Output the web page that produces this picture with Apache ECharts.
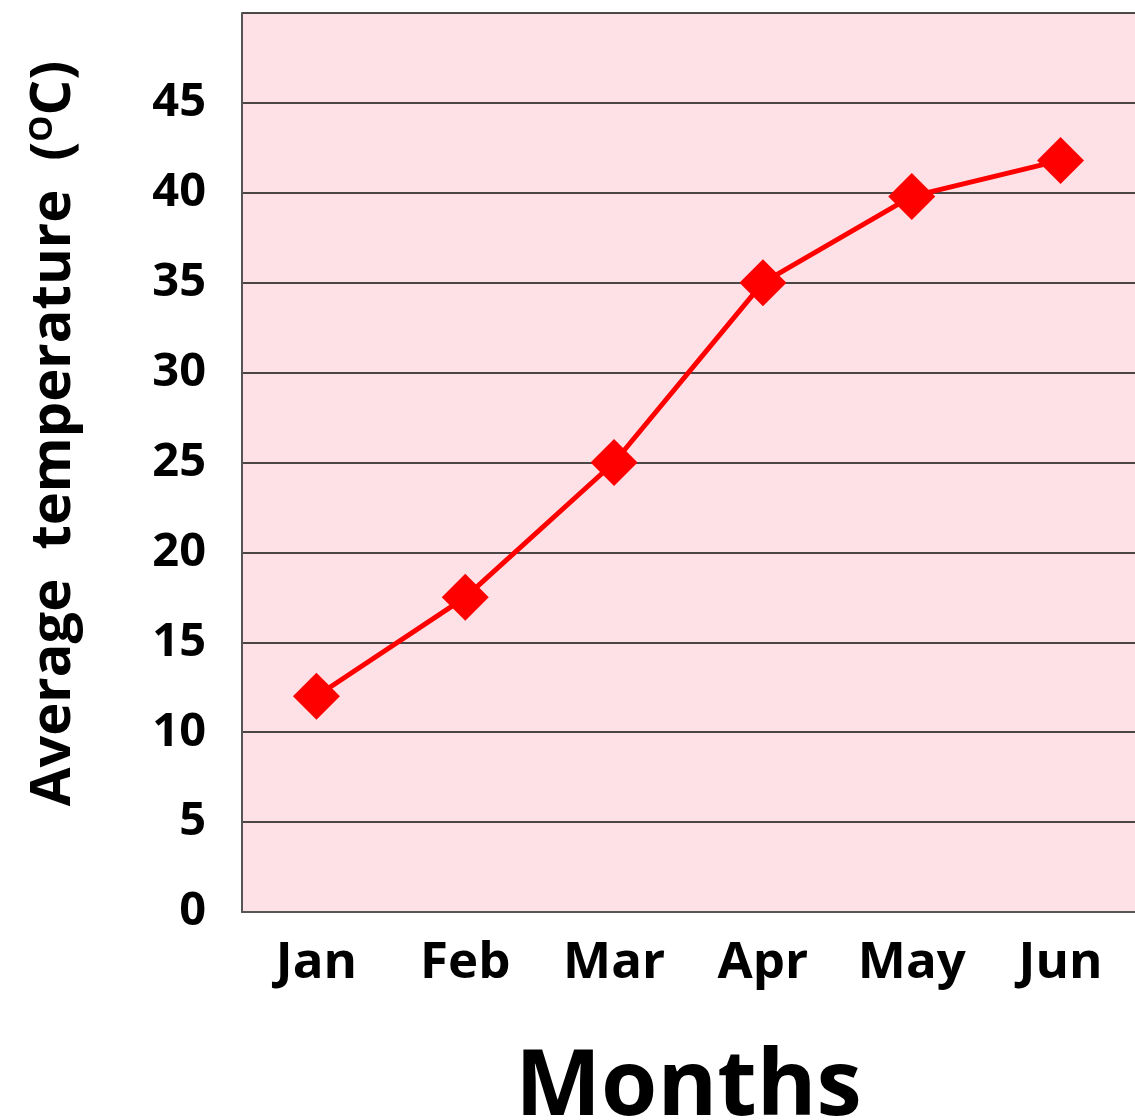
<!DOCTYPE html>
<html>
<head>
<meta charset="utf-8">
<script src="https://cdn.jsdelivr.net/npm/echarts@6/dist/echarts.min.js"></script>
<style>
	html, body { margin: 0; padding: 0; background: #fff; }
	#chart { width: 1135px; height: 1120px; }
</style>
</head>
<body>
<div id="chart"></div>
<script>
	// 月份和平均温度
	const months = ['Jan', 'Feb', 'Mar', 'Apr', 'May', 'Jun'];
	const temps = [12, 17.5, 25, 35, 39.8, 41.8];
	const yTicks = [0, 5, 10, 15, 20, 25, 30, 35, 40, 45];

	const font = '"Open Sans", "Noto Sans", sans-serif';

	const chart = echarts.init(document.getElementById('chart'));

	const options = {
		backgroundColor: '#ffffff',
		animation: false,
		grid: {
			left: 242,
			right: 0,
			top: 13,
			bottom: 208,
			containLabel: false,
			outerBoundsMode: 'none',
			show: true,
			backgroundColor: '#fde1e7',
			borderWidth: 0
		},
		xAxis: {
			type: 'category',
			data: months,
			boundaryGap: true,
			name: 'Months',
			nameLocation: 'middle',
			nameGap: 132,
			nameTextStyle: {
				fontFamily: font,
				fontWeight: 'bold',
				fontSize: 91,
				color: '#000'
			},
			axisLine: {
				lineStyle: { color: '#555', width: 2 }
			},
			axisTick: { show: false },
			axisLabel: {
				margin: 26,
				fontFamily: font,
				fontWeight: 'bold',
				fontSize: 51,
				color: '#000'
			}
		},
		yAxis: {
			type: 'value',
			min: 0,
			max: 50,
			interval: 5,
			name: '{n|Average  temperature  (}{sup|O}{n|C)}',
			nameLocation: 'middle',
			nameGap: 160,
			nameRotate: 90,
			nameTextStyle: {
				padding: [0, 0, 0, 58],
				rich: {
					n: {
						fontFamily: font,
						fontWeight: 'bold',
						fontSize: 56,
						color: '#000'
					},
					sup: {
						fontFamily: font,
						fontWeight: 'bold',
						fontSize: 33,
						color: '#000',
						verticalAlign: 'top',
						padding: [0, 0, 22, 0]
					}
				}
			},
			axisLine: {
				show: true,
				lineStyle: { color: '#555', width: 2 }
			},
			axisTick: { show: false },
			axisLabel: {
				margin: 36,
				fontFamily: font,
				fontWeight: 'bold',
				fontSize: 47,
				color: '#000',
				formatter: function (v) {
					return yTicks.indexOf(v) >= 0 ? String(v) : '';
				}
			},
			splitLine: {
				show: true,
				lineStyle: { color: '#111', width: 1.5 }
			}
		},
		series: [{
			type: 'line',
			data: temps,
			symbol: 'diamond',
			symbolSize: 47,
			lineStyle: { color: '#ff0000', width: 5 },
			itemStyle: { color: '#ff0000' }
		}]
	};

	chart.setOption(options);
</script>
</body>
</html>
